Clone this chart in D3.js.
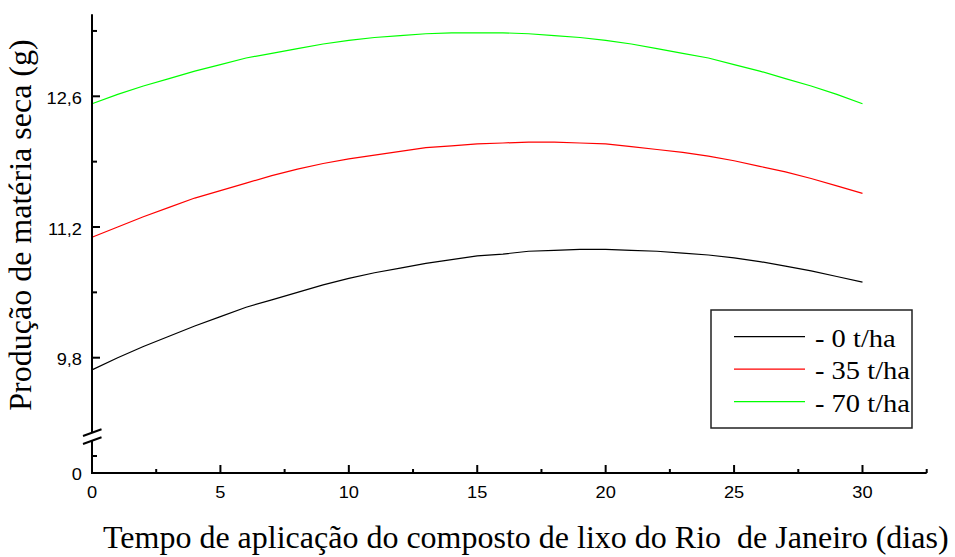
<!DOCTYPE html>
<html>
<head>
<meta charset="utf-8">
<script src="https://cdn.jsdelivr.net/npm/d3@7"></script>
<style>
  body { margin: 0; background: #ffffff; }
  svg { display: block; }
</style>
</head>
<body>
<svg id="chart" width="955" height="557"></svg>
<script>
// Days after application of the Rio de Janeiro waste compost
const days = [0, 1, 2, 3, 4, 5, 6, 7, 8, 9, 10, 11, 12, 13, 14, 15,
              16, 17, 18, 19, 20, 21, 22, 23, 24, 25, 26, 27, 28, 29, 30];

// Dry matter production (g) for each compost dose
const dose0 = [9.67, 9.80, 9.92, 10.03, 10.14, 10.24, 10.34, 10.42, 10.50, 10.58, 10.65,
               10.71, 10.76, 10.81, 10.85, 10.89, 10.91, 10.94, 10.95, 10.96, 10.96,
               10.95, 10.94, 10.92, 10.90, 10.87, 10.83, 10.78, 10.73, 10.67, 10.61];
const dose35 = [11.09, 11.20, 11.31, 11.41, 11.51, 11.59, 11.67, 11.75, 11.82, 11.88, 11.93,
                11.97, 12.01, 12.05, 12.07, 12.09, 12.10, 12.11, 12.11, 12.10, 12.09,
                12.06, 12.03, 12.00, 11.96, 11.91, 11.85, 11.79, 11.72, 11.64, 11.56];
const dose70 = [12.52, 12.62, 12.71, 12.79, 12.87, 12.94, 13.01, 13.06, 13.11, 13.16, 13.20,
                13.23, 13.25, 13.27, 13.28, 13.28, 13.28, 13.27, 13.25, 13.23, 13.20,
                13.16, 13.11, 13.06, 13.01, 12.94, 12.87, 12.79, 12.71, 12.62, 12.52];

const seriesNames = ["- 0 t/ha", "- 35 t/ha", "- 70 t/ha"];
const seriesColors = ["#000000", "#ff0000", "#00ff00"];

const xTicks = [0, 5, 10, 15, 20, 25, 30];
const xMinorTicks = [2.5, 7.5, 12.5, 17.5, 22.5, 27.5, 32.5];
const yTicks = [9.8, 11.2, 12.6];
const yTickLabels = ["9,8", "11,2", "12,6"];
const yMinorTicks = [10.5, 11.9, 13.3];
const yBaseLabel = "0";

const xTitle = "Tempo de aplicação do composto de lixo do Rio  de Janeiro (dias)";
const yTitle = "Produção de matéria seca (g)";

const series = [dose0, dose35, dose70].map((vals, i) => ({
  name: seriesNames[i],
  color: seriesColors[i],
  points: days.map((d, j) => ({ day: d, value: vals[j] }))
}));

// ---- layout ----
const svg = d3.select("#chart");
const stretch = 1.14;             // text is drawn slightly wide
const axisX = 92, axisY = 473;

const x = d3.scaleLinear().domain([0, 32.5]).range([axisX, 926.7]);
const y = d3.scaleLinear().domain([9.8, 12.6]).range([357.7, 96.3]);
const yAxisTop = 13.48;
const breakTop = 432.5, breakBottom = 440.5;   // gap in the y axis
const lowerStubTick = 456;

const axisColor = "#000";
const sansFont = "'Liberation Sans', Arial, sans-serif";
const serifFont = "'Liberation Serif', 'Times New Roman', serif";

// ---- curves ----
const line = d3.line()
  .x(d => x(d.day))
  .y(d => y(d.value));

svg.append("g").selectAll("path")
  .data(series)
  .join("path")
  .attr("d", d => line(d.points))
  .attr("fill", "none")
  .attr("stroke", d => d.color)
  .attr("stroke-width", 1.2);

// ---- x axis ----
const gx = svg.append("g");
gx.append("line")
  .attr("x1", axisX - 1).attr("x2", x(32.5))
  .attr("y1", axisY).attr("y2", axisY)
  .attr("stroke", axisColor).attr("stroke-width", 2);
gx.selectAll("line.major").data(xTicks).join("line")
  .attr("class", "major")
  .attr("x1", d => x(d)).attr("x2", d => x(d))
  .attr("y1", axisY).attr("y2", axisY - 8)
  .attr("stroke", axisColor).attr("stroke-width", 2);
gx.selectAll("line.minor").data(xMinorTicks).join("line")
  .attr("class", "minor")
  .attr("x1", d => x(d)).attr("x2", d => x(d))
  .attr("y1", axisY).attr("y2", axisY - 4)
  .attr("stroke", axisColor).attr("stroke-width", 2);
gx.selectAll("text").data(xTicks).join("text")
  .attr("transform", d => `translate(${x(d)},${axisY + 25}) scale(${stretch},1)`)
  .attr("text-anchor", "middle")
  .attr("font-family", sansFont)
  .attr("font-size", 16)
  .attr("fill", "#000")
  .text(d => d);

// ---- y axis (with break) ----
const gy = svg.append("g");
gy.append("line")
  .attr("x1", axisX).attr("x2", axisX)
  .attr("y1", y(yAxisTop)).attr("y2", breakTop)
  .attr("stroke", axisColor).attr("stroke-width", 2);
gy.append("line")
  .attr("x1", axisX).attr("x2", axisX)
  .attr("y1", breakBottom).attr("y2", axisY + 1)
  .attr("stroke", axisColor).attr("stroke-width", 2);
// break marks
gy.selectAll("line.brk").data([breakTop, breakBottom]).join("line")
  .attr("class", "brk")
  .attr("x1", axisX - 9).attr("y1", d => d + 3.5)
  .attr("x2", axisX + 9.5).attr("y2", d => d - 3.2)
  .attr("stroke", axisColor).attr("stroke-width", 2);
gy.selectAll("line.major").data(yTicks).join("line")
  .attr("class", "major")
  .attr("x1", axisX).attr("x2", axisX + 8)
  .attr("y1", d => y(d)).attr("y2", d => y(d))
  .attr("stroke", axisColor).attr("stroke-width", 2);
gy.selectAll("line.minor").data(yMinorTicks).join("line")
  .attr("class", "minor")
  .attr("x1", axisX).attr("x2", axisX + 5)
  .attr("y1", d => y(d)).attr("y2", d => y(d))
  .attr("stroke", axisColor).attr("stroke-width", 2);
gy.append("line")
  .attr("x1", axisX).attr("x2", axisX + 5)
  .attr("y1", lowerStubTick).attr("y2", lowerStubTick)
  .attr("stroke", axisColor).attr("stroke-width", 2);
gy.selectAll("text.tl").data(yTicks).join("text")
  .attr("class", "tl")
  .attr("transform", (d) => `translate(${axisX - 10},${y(d) + 7.5}) scale(${stretch},1)`)
  .attr("text-anchor", "end")
  .attr("font-family", sansFont)
  .attr("font-size", 16)
  .attr("fill", "#000")
  .text((d, i) => yTickLabels[i]);
gy.append("text")
  .attr("transform", `translate(${axisX - 10},${axisY + 7}) scale(${stretch},1)`)
  .attr("text-anchor", "end")
  .attr("font-family", sansFont)
  .attr("font-size", 16)
  .attr("fill", "#000")
  .text(yBaseLabel);

// ---- axis titles ----
svg.append("text")
  .attr("transform", `translate(103,548)`)
  .attr("font-family", serifFont)
  .attr("font-size", 32)
  .attr("fill", "#000")
  .style("white-space", "pre")
  .text(xTitle);

svg.append("text")
  .attr("transform", `translate(31,225) rotate(-90)`)
  .attr("text-anchor", "middle")
  .attr("font-family", serifFont)
  .attr("font-size", 32)
  .attr("fill", "#000")
  .text(yTitle);

// ---- legend ----
const legend = svg.append("g");
legend.append("rect")
  .attr("x", 711).attr("y", 310).attr("width", 201).attr("height", 118)
  .attr("fill", "#fff").attr("stroke", "#222").attr("stroke-width", 1.5);
const items = legend.selectAll("g.item").data(series).join("g")
  .attr("class", "item")
  .attr("transform", (d, i) => `translate(0,${336.7 + i * 32.5})`);
items.append("line")
  .attr("x1", 734).attr("x2", 805)
  .attr("y1", 0).attr("y2", 0)
  .attr("stroke", d => d.color).attr("stroke-width", 1.2);
items.append("text")
  .attr("transform", `translate(815,10) scale(${stretch},1)`)
  .attr("font-family", serifFont)
  .attr("font-size", 25)
  .attr("fill", "#000")
  .text(d => d.name);
</script>
</body>
</html>
